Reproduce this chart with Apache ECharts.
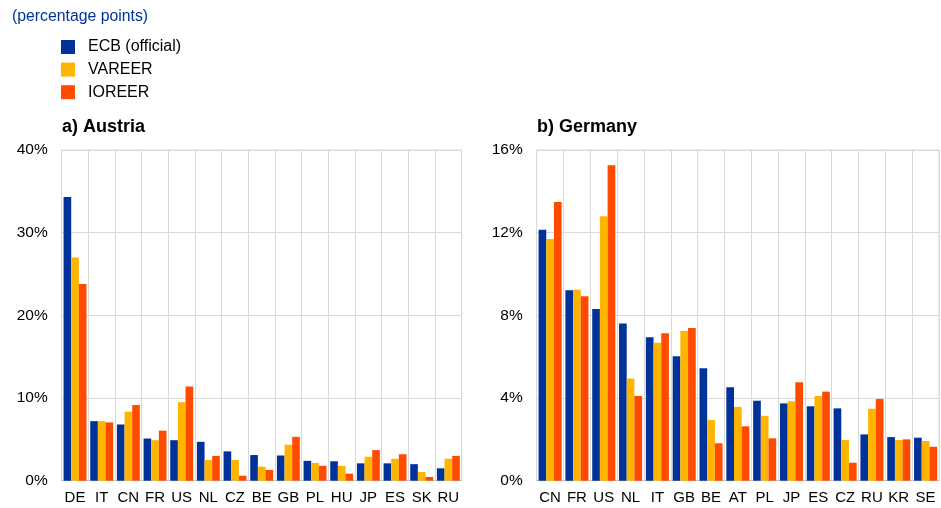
<!DOCTYPE html>
<html>
<head>
<meta charset="utf-8">
<script src="https://cdn.jsdelivr.net/npm/echarts@6/dist/echarts.min.js"></script>
<style>
html,body{margin:0;padding:0;background:#fff;}
#chart{width:941px;height:508px;}
</style>
</head>
<body>
<div id="chart"></div>
<script>
// Data
var seriesNames = ['ECB (official)', 'VAREER', 'IOREER'];
var austriaCats = ['DE','IT','CN','FR','US','NL','CZ','BE','GB','PL','HU','JP','ES','SK','RU'];
var austriaECB    = [34.3, 7.2, 6.8, 5.1, 4.9, 4.7, 3.55, 3.1, 3.05, 2.4, 2.35, 2.1, 2.1, 2.0, 1.5];
var austriaVAREER = [27.0, 7.2, 8.35, 4.9, 9.5, 2.5, 2.5, 1.7, 4.35, 2.15, 1.8, 2.9, 2.65, 1.05, 2.65];
var austriaIOREER = [23.8, 7.05, 9.15, 6.05, 11.4, 3.0, 0.6, 1.3, 5.3, 1.8, 0.85, 3.7, 3.2, 0.45, 3.0];

var germanyCats = ['CN','FR','US','NL','IT','GB','BE','AT','PL','JP','ES','CZ','RU','KR','SE'];
var germanyECB    = [12.14, 9.21, 8.31, 7.6, 6.94, 6.02, 5.44, 4.52, 3.87, 3.74, 3.6, 3.5, 2.24, 2.11, 2.08];
var germanyVAREER = [11.7, 9.24, 12.8, 4.95, 6.68, 7.24, 2.94, 3.57, 3.14, 3.84, 4.1, 1.97, 3.48, 1.97, 1.92];
var germanyIOREER = [13.48, 8.92, 15.26, 4.1, 7.13, 7.39, 1.81, 2.63, 2.05, 4.76, 4.31, 0.87, 3.95, 2.0, 1.64];

var austriaTicks = {min: 0, max: 40, interval: 10};
var germanyTicks = {min: 0, max: 16, interval: 4};

var colors = ['#003299', '#FFB400', '#FF4B00'];
var font = 'Arial, "Liberation Sans", sans-serif';
var gridColor = '#d9d9d9';

function xAxis(idx, cats) {
  return {
    type: 'category', gridIndex: idx, data: cats,
    axisLine: {show: true, lineStyle: {color: '#c8c8c8', width: 1}},
    axisTick: {show: false},
    axisLabel: {color: '#000', fontSize: 15, fontFamily: font, margin: 10, interval: 0},
    splitLine: {show: true, lineStyle: {color: gridColor, width: 1}}
  };
}
function yAxis(idx, t) {
  return {
    type: 'value', gridIndex: idx, min: t.min, max: t.max, interval: t.interval,
    axisLine: {show: false}, axisTick: {show: false},
    axisLabel: {color: '#000', fontSize: 15.5, fontFamily: font, margin: 14, formatter: '{value}%'},
    splitLine: {show: true, lineStyle: {color: gridColor, width: 1}}
  };
}
function bars(name, data, ci, idx) {
  return {
    name: name, type: 'bar', xAxisIndex: idx, yAxisIndex: idx, data: data,
    itemStyle: {color: colors[ci]},
    barGap: '0%', barCategoryGap: '14%',
    animation: false
  };
}

var chart = echarts.init(document.getElementById('chart'), null, {renderer: 'canvas'});
chart.setOption({
  animation: false,
  color: colors,
  textStyle: {fontFamily: font},
  title: [
    {text: '(percentage points)', left: 7, top: 4,
     textStyle: {color: '#003299', fontSize: 15.8, fontWeight: 'normal', fontFamily: font}},
    {text: 'a) Austria', left: 57, top: 113,
     textStyle: {color: '#000', fontSize: 18, fontWeight: 'bold', fontFamily: font}},
    {text: 'b) Germany', left: 532, top: 113,
     textStyle: {color: '#000', fontSize: 18, fontWeight: 'bold', fontFamily: font}}
  ],
  legend: {
    orient: 'vertical', left: 56, top: 34,
    icon: 'rect', itemWidth: 14, itemHeight: 14, itemGap: 6.6,
    data: seriesNames,
    textStyle: {color: '#000', fontSize: 16, lineHeight: 14, fontFamily: font, padding: [0, 0, 0, 8]}
  },
  grid: [
    {left: 61.7, top: 150, width: 400, height: 330.7, show: true, borderColor: gridColor, borderWidth: 1},
    {left: 536.7, top: 150, width: 402.3, height: 330.7, show: true, borderColor: gridColor, borderWidth: 1}
  ],
  xAxis: [xAxis(0, austriaCats), xAxis(1, germanyCats)],
  yAxis: [yAxis(0, austriaTicks), yAxis(1, germanyTicks)],
  series: [
    bars(seriesNames[0], austriaECB, 0, 0),
    bars(seriesNames[1], austriaVAREER, 1, 0),
    bars(seriesNames[2], austriaIOREER, 2, 0),
    bars(seriesNames[0], germanyECB, 0, 1),
    bars(seriesNames[1], germanyVAREER, 1, 1),
    bars(seriesNames[2], germanyIOREER, 2, 1)
  ]
});
</script>
</body>
</html>
